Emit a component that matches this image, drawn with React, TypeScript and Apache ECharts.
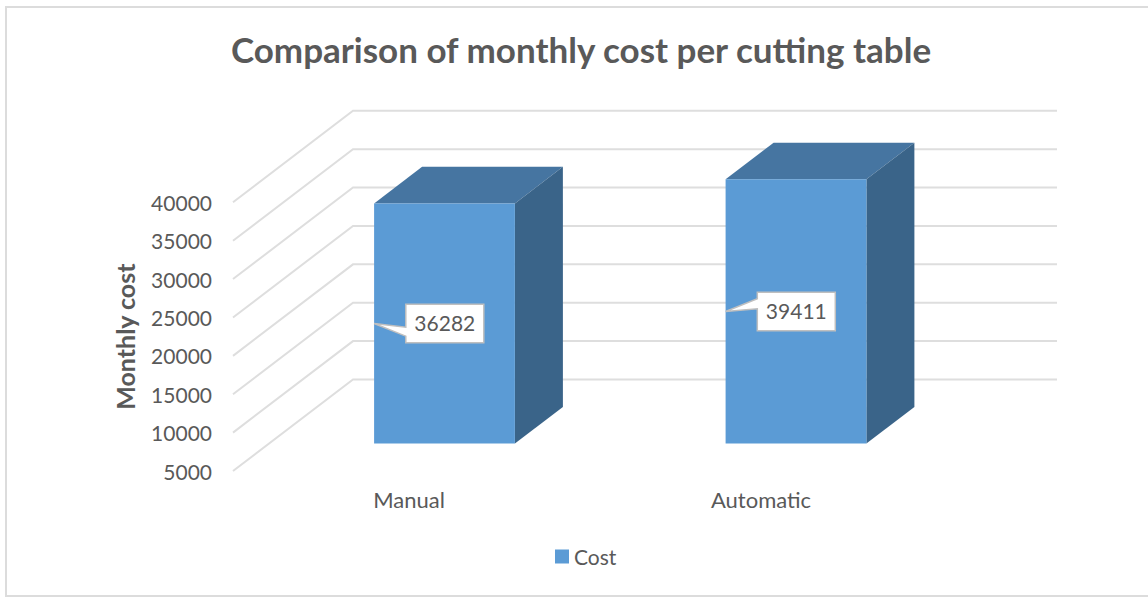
import React, { useEffect, useRef } from "react";
import * as echarts from "echarts";

const chartTitle = "Comparison of monthly cost per cutting table";
const yAxisTitle = "Monthly cost";
const seriesName = "Cost";
const categories = ["Manual", "Automatic"];
const costValues = [36282, 39411];
const gridValues = [5000, 10000, 15000, 20000, 25000, 30000, 35000, 40000];

const FONT = "Lato, Carlito, sans-serif";
const TEXT = "#595959";
const GRID = "#dedede";
const FRONT = "#5b9bd5";
const TOP = "#4675a1";
const SIDE = "#3a6489";

// Oblique projection of the chart box: how far the back wall sits from the front plane.
const WALL_DX = 120;
const WALL_DY = -91.5;
const BAR_SHIFT = 0.3;
const BAR_DEPTH = 0.4;

function renderGridLine(params: any, api: any) {
  const sys = params.coordSys;
  const y = api.coord([0, api.value(1)])[1];
  return {
    type: "polyline",
    silent: true,
    shape: {
      points: [
        [sys.x, y],
        [sys.x + WALL_DX, y + WALL_DY],
        [sys.x + sys.width + WALL_DX, y + WALL_DY],
      ],
    },
    style: { fill: "none", stroke: GRID, lineWidth: 2 },
  };
}

function renderBar(params: any, api: any) {
  const idx = api.value(0);
  const value = api.value(1);
  const top = api.coord([idx, value]);
  const base = api.coord([idx, gridValues[0]]);
  const half = api.size([1, 0])[0] * 0.2;
  const sx = WALL_DX * BAR_SHIFT;
  const sy = WALL_DY * BAR_SHIFT;
  const dx = WALL_DX * BAR_DEPTH;
  const dy = WALL_DY * BAR_DEPTH;
  const l = top[0] - half + sx - 0.5 - idx * 0.5;
  const r = top[0] + half + sx - 0.5 - idx * 0.5;
  const t = top[1] + sy;
  const b = base[1] + sy;

  // Callout beside the front face, its pointer touching the face's left edge.
  const tipY = (t + b) / 2;
  const boxL = l + 31.7;
  const boxR = boxL + 78;
  const boxT = tipY - 19.3;
  const boxB = tipY + 19.3;
  const wedge = params.dataIndex === 0 ? [3.7, 12.7] : [-12.7, -2.7];

  return {
    type: "group",
    children: [
      {
        type: "polygon",
        shape: { points: [[l, t], [l + dx, t + dy], [r + dx, t + dy], [r, t]] },
        style: { fill: TOP },
      },
      {
        type: "polygon",
        shape: { points: [[r, t], [r + dx, t + dy], [r + dx, b + dy], [r, b]] },
        style: { fill: SIDE },
      },
      {
        type: "rect",
        shape: { x: l, y: t, width: r - l, height: b - t },
        style: { fill: FRONT },
      },
      {
        type: "polygon",
        shape: {
          points: [
            [boxL, boxT],
            [boxR, boxT],
            [boxR, boxB],
            [boxL, boxB],
            [boxL, tipY + wedge[1]],
            [l, tipY],
            [boxL, tipY + wedge[0]],
          ],
        },
        style: { fill: "#ffffff", stroke: "#bfbfbf", lineWidth: 1.5 },
      },
      {
        type: "text",
        style: {
          text: String(value),
          x: (boxL + boxR) / 2,
          y: tipY - 0.5,
          align: "center",
          verticalAlign: "middle",
          fontFamily: FONT,
          fontSize: 21,
          fill: TEXT,
        },
      },
    ],
  };
}

export default function App() {
  const ref = useRef<HTMLDivElement>(null);

  useEffect(() => {
    const chart = echarts.init(ref.current!, undefined, { renderer: "svg" });
    chart.setOption({
      animation: false,
      backgroundColor: "#ffffff",
      textStyle: { fontFamily: FONT },
      title: {
        text: chartTitle,
        left: 576,
        top: 26,
        textAlign: "center",
        textStyle: { fontFamily: FONT, fontSize: 35, fontWeight: "bold", color: TEXT },
      },
      legend: {
        data: [seriesName],
        left: 550,
        top: 541,
        icon: "rect",
        itemWidth: 14,
        itemHeight: 14,
        itemGap: 6,
        textStyle: { fontFamily: FONT, fontSize: 21, color: TEXT },
      },
      grid: { left: 233, top: 202.3, width: 704, height: 268.7 },
      xAxis: {
        type: "category",
        data: categories,
        axisLine: { show: false },
        axisTick: { show: false },
        axisLabel: { margin: 17, fontFamily: FONT, fontSize: 22, color: TEXT },
      },
      yAxis: {
        type: "value",
        min: 5000,
        max: 40000,
        interval: 5000,
        name: yAxisTitle,
        nameLocation: "middle",
        nameGap: 96,
        nameTextStyle: { fontFamily: FONT, fontSize: 25, fontWeight: "bold", color: TEXT },
        axisLine: { show: false },
        axisTick: { show: false },
        splitLine: { show: false },
        axisLabel: {
          margin: 21,
          fontFamily: FONT,
          fontSize: 21,
          color: TEXT,
          formatter: (v: number) => String(v),
        },
      },
      graphic: [
        {
          type: "polyline",
          silent: true,
          z: -1,
          shape: { points: [[1148, 7], [6, 7], [6, 596], [1148, 596]] },
          style: { fill: "none", stroke: "#dcdcdc", lineWidth: 2 },
        },
      ],
      series: [
        {
          type: "custom",
          name: "Gridlines",
          coordinateSystem: "cartesian2d",
          renderItem: renderGridLine,
          data: gridValues.map((v) => [0, v]),
          silent: true,
          z: 1,
        },
        {
          type: "custom",
          name: seriesName,
          coordinateSystem: "cartesian2d",
          renderItem: renderBar,
          itemStyle: { color: FRONT },
          data: costValues.map((v, i) => [i, v]),
          z: 2,
        },
      ],
    });
    return () => chart.dispose();
  }, []);

  return <div ref={ref} style={{ position: "fixed", left: 0, top: 0, width: 1148, height: 597 }} />;
}
